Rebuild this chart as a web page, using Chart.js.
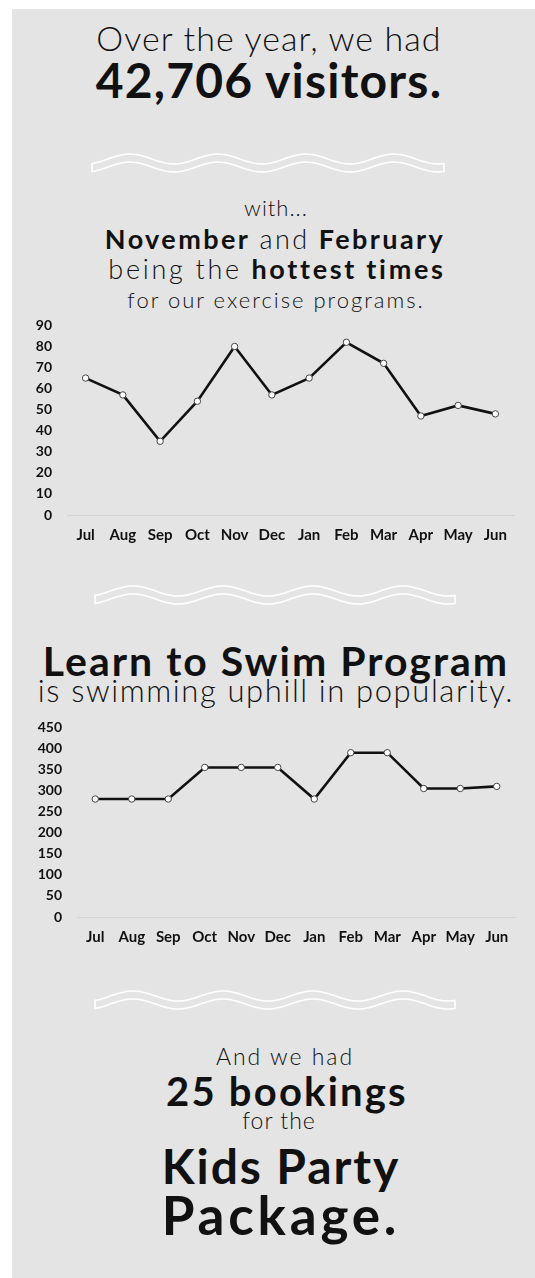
<!DOCTYPE html>
<html lang="en">
<head>
<meta charset="UTF-8">
<title>Visitors</title>
<script src="https://cdn.jsdelivr.net/npm/chart.js"></script>
<style>
  html, body { margin: 0; padding: 0; background: #fff; }
  body { width: 535px; height: 1278px; position: relative; overflow: hidden; font-family: Lato, "Open Sans", sans-serif; color: #111; }
  #panel { position: absolute; left: 12px; top: 9px; right: -10px; bottom: -10px; background: #e4e4e4; }
  .t { position: absolute; white-space: nowrap; transform: translateX(-50%); text-align: center; }
  .light { font-weight: 300; }
  .bold { font-weight: 700; }
  .wave { position: absolute; }
  canvas { position: absolute; }
</style>
</head>
<body>
<div id="panel"></div>

<div class="t light" style="left:269px; top:19px; font-size:34px; line-height:38px; letter-spacing:1.1px;">Over the year, we had</div>
<div class="t bold" style="left:269px; top:54px; font-size:48px; line-height:52px; letter-spacing:1.2px;">42,706 visitors.</div>

<svg class="wave" id="wave1" style="left:90px; top:148px;" width="356" height="30"></svg>

<div class="t light" style="left:276px; top:196px; font-size:22px; line-height:24px; letter-spacing:1px;">with...</div>
<div class="t" style="left:275px; top:224px; font-size:27px; line-height:30px; letter-spacing:2.4px;"><b>November</b> <span class="light">and</span> <b>February</b></div>
<div class="t" style="left:277px; top:254px; font-size:27px; line-height:30px; letter-spacing:2.7px;"><span class="light">being the</span> <b>hottest times</b></div>
<div class="t light" style="left:276px; top:288px; font-size:22px; line-height:24px; letter-spacing:2px;">for our exercise programs.</div>

<canvas id="chart1" width="490" height="250" style="left:30px; top:302px;"></canvas>

<svg class="wave" id="wave2" style="left:93px; top:580px;" width="364" height="30"></svg>

<div class="t bold" style="left:276px; top:639px; font-size:41px; line-height:44px; letter-spacing:2px;">Learn to Swim Program</div>
<div class="t light" style="left:276px; top:673px; font-size:31px; line-height:34px; letter-spacing:1.6px;">is swimming uphill in popularity.</div>

<canvas id="chart2" width="490" height="250" style="left:30px; top:704px;"></canvas>

<svg class="wave" id="wave3" style="left:93px; top:985px;" width="364" height="30"></svg>

<div class="t light" style="left:285px; top:1043px; font-size:23px; line-height:26px; letter-spacing:2px;">And we had</div>
<div class="t bold" style="left:287px; top:1069px; font-size:40px; line-height:44px; letter-spacing:2.2px;">25 bookings</div>
<div class="t light" style="left:279px; top:1107px; font-size:23px; line-height:26px; letter-spacing:1px;">for the</div>
<div class="t bold" style="left:281px; top:1139px; font-size:48px; line-height:54px; letter-spacing:1.9px;">Kids Party</div>
<div class="t bold" style="left:281px; top:1186px; font-size:53px; line-height:58px; letter-spacing:3.8px;">Package.</div>

<script>
  const months = ["Jul", "Aug", "Sep", "Oct", "Nov", "Dec", "Jan", "Feb", "Mar", "Apr", "May", "Jun"];
  const exerciseValues = [65, 57, 35, 54, 80, 57, 65, 82, 72, 47, 52, 48];
  const swimValues = [280, 280, 280, 355, 355, 355, 280, 390, 390, 305, 305, 310];

  // white outlined wavy band used as a divider
  function drawWave(id) {
    const svg = document.getElementById(id);
    const w = +svg.getAttribute("width") - 4;
    const period = w / 4, amp = 5, band = 8, x0 = 2, mid = 11;
    let top = [], bottom = [];
    for (let x = 0; x <= w; x += 2) {
      const y = mid - amp * Math.cos(2 * Math.PI * (x - 38) / period);
      top.push((x0 + x) + "," + y.toFixed(1));
      bottom.unshift((x0 + x) + "," + (y + band).toFixed(1));
    }
    const d = "M" + top.join(" L") + " L" + bottom.join(" L") + " Z";
    svg.innerHTML = '<path d="' + d + '" fill="none" stroke="#fff" stroke-width="1.6" stroke-linejoin="round"/>';
  }
  drawWave("wave1");
  drawWave("wave2");
  drawWave("wave3");

  function makeChart(id, values, max, step, yWidth, padRight) {
    return new Chart(document.getElementById(id), {
      type: "line",
      data: {
        labels: months,
        datasets: [{
          data: values,
          borderColor: "#111",
          borderWidth: 2.6,
          tension: 0,
          pointRadius: 3.2,
          pointBorderWidth: 1,
          pointBackgroundColor: "#fff",
          pointBorderColor: "#444"
        }]
      },
      options: {
        responsive: false,
        animation: false,
        layout: { padding: { top: 11, right: padRight, bottom: 4, left: 0 } },
        plugins: { legend: { display: false }, tooltip: { enabled: false } },
        scales: {
          x: {
            offset: true,
            grid: { display: false, drawTicks: false },
            border: { display: true, color: "#d4d4d4", width: 1 },
            ticks: { padding: 11, color: "#111", font: { family: "Lato", size: 15, weight: "bold" } },
            afterFit: s => { s.height = 33; }
          },
          y: {
            min: 0, max: max,
            grid: { display: false, drawTicks: false },
            border: { display: false },
            ticks: { stepSize: step, padding: 15, color: "#111", font: { family: "Lato", size: 14, weight: "bold" } },
            afterFit: s => { s.width = yWidth; }
          }
        }
      }
    });
  }

  makeChart("chart1", exerciseValues, 90, 10, 37, 6);
  makeChart("chart2", swimValues, 450, 50, 47, 5);
</script>
</body>
</html>
